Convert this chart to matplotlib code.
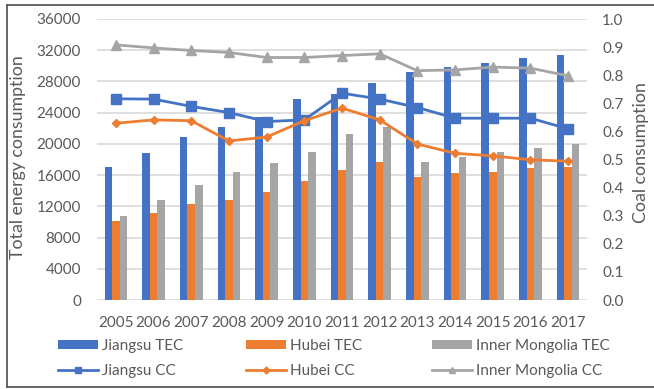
import matplotlib
matplotlib.use("Agg")
import matplotlib.pyplot as plt
import numpy as np
from matplotlib.patches import Patch
from matplotlib.lines import Line2D

plt.rcParams['font.family'] = ['Lato', 'DejaVu Sans']

years = ["2005", "2006", "2007", "2008", "2009", "2010", "2011",
         "2012", "2013", "2014", "2015", "2016", "2017"]

# Total energy consumption (left axis)
jiangsu_tec = [17100, 18800, 20900, 22200, 23500, 25700, 26400,
               27800, 29250, 29900, 30300, 31050, 31400]
hubei_tec = [10130, 11200, 12260, 12820, 13800, 15260, 16670,
             17730, 15730, 16320, 16450, 16880, 17090]
inner_mongolia_tec = [10770, 12820, 14740, 16450, 17520, 18930, 21240,
                      22140, 17730, 18290, 18930, 19530, 19960]

# Coal consumption share (right axis)
jiangsu_cc = [0.716, 0.715, 0.689, 0.667, 0.635, 0.641, 0.736,
              0.715, 0.685, 0.647, 0.647, 0.647, 0.609]
hubei_cc = [0.629, 0.641, 0.638, 0.566, 0.580, 0.638, 0.683,
            0.641, 0.555, 0.522, 0.513, 0.499, 0.494]
inner_mongolia_cc = [0.908, 0.897, 0.888, 0.881, 0.863, 0.863, 0.870,
                     0.876, 0.816, 0.819, 0.829, 0.825, 0.798]

BLUE = "#4472C4"
ORANGE = "#ED7D31"
GRAY = "#A5A5A5"
TEXT = "#595959"
GRID = "#D9D9D9"

W, H = 654, 389
fig = plt.figure(figsize=(W / 100, H / 100), dpi=100)

def fx(px):
    return px / W

def fy(py):
    return 1 - py / H

ax = fig.add_axes([fx(97), fy(300), fx(587) - fx(97), fy(19) - fy(300)])
ax2 = ax.twinx()

x = np.arange(len(years))
bw = 0.2
ax.bar(x - bw, jiangsu_tec, bw, color=BLUE, label="Jiangsu TEC", zorder=2)
ax.bar(x, hubei_tec, bw, color=ORANGE, label="Hubei TEC", zorder=2)
ax.bar(x + bw, inner_mongolia_tec, bw, color=GRAY, label="Inner Mongolia TEC", zorder=2)

ax.set_xlim(-0.5, len(years) - 0.5)
ax.set_ylim(0, 36000)
ax.set_yticks(np.arange(0, 36001, 4000))
ax.set_xticks(x)
ax.set_xticklabels(years)
ax.yaxis.grid(True, color=GRID, lw=1.2)
ax.set_axisbelow(True)

ax2.plot(x, jiangsu_cc, color=BLUE, lw=2, marker="s", ms=6.5, label="Jiangsu CC", zorder=3)
ax2.plot(x, hubei_cc, color=ORANGE, lw=2, marker="D", ms=4.5, label="Hubei CC", zorder=3)
ax2.plot(x, inner_mongolia_cc, color=GRAY, lw=2, marker="^", ms=6.5, label="Inner Mongolia CC", zorder=3)
ax2.set_ylim(0, 1.0)
ax2.set_yticks(np.arange(0, 1.01, 0.1))
ax2.set_yticklabels([f"{v:.1f}" for v in np.arange(0, 1.01, 0.1)])

for a in (ax, ax2):
    for s in a.spines.values():
        s.set_visible(False)
ax.tick_params(axis="y", length=0, pad=11.5, labelsize=11, labelcolor=TEXT)
ax.tick_params(axis="x", length=0, pad=11.5, labelsize=11, labelcolor=TEXT)
ax2.tick_params(axis="y", length=0, pad=11, labelsize=11, labelcolor=TEXT)

fig.text(fx(18), fy(157), "Total energy consumption", rotation=90,
         ha="center", va="center", fontsize=12.8, color=TEXT)
fig.text(fx(641), fy(153), "Coal consumption", rotation=90,
         ha="center", va="center", fontsize=12.8, color=TEXT)

# Legend: three columns, bar entry above line entry
entries = [
    ("Jiangsu TEC", "Jiangsu CC", BLUE, "s", 5, 58),
    ("Hubei TEC", "Hubei CC", ORANGE, "D", 3.5, 246),
    ("Inner Mongolia TEC", "Inner Mongolia CC", GRAY, "^", 5, 432),
]
for tec_lab, cc_lab, col, mk, ms, xpos in entries:
    handles = [Patch(facecolor=col, edgecolor="none", label=tec_lab),
               Line2D([], [], color=col, lw=2, marker=mk, ms=ms, label=cc_lab)]
    leg = fig.legend(handles=handles, loc="center left",
                     bbox_to_anchor=(fx(xpos), fy(358.5)), frameon=False,
                     fontsize=11, handlelength=2.65, handleheight=0.55,
                     handletextpad=0.2, borderpad=0, borderaxespad=0,
                     labelspacing=0.7)
    for t in leg.get_texts():
        t.set_color(TEXT)

# Outer frame
frame_col = "#595959"
fig.add_artist(Line2D([fx(7), fx(7)], [fy(5), fy(387)], color=frame_col, lw=1.3))
fig.add_artist(Line2D([fx(7), fx(654)], [fy(5), fy(5)], color=frame_col, lw=1.3))
fig.add_artist(Line2D([fx(7), fx(654)], [fy(387), fy(387)], color=frame_col, lw=1.3))

fig.savefig("out.png", dpi=100)
